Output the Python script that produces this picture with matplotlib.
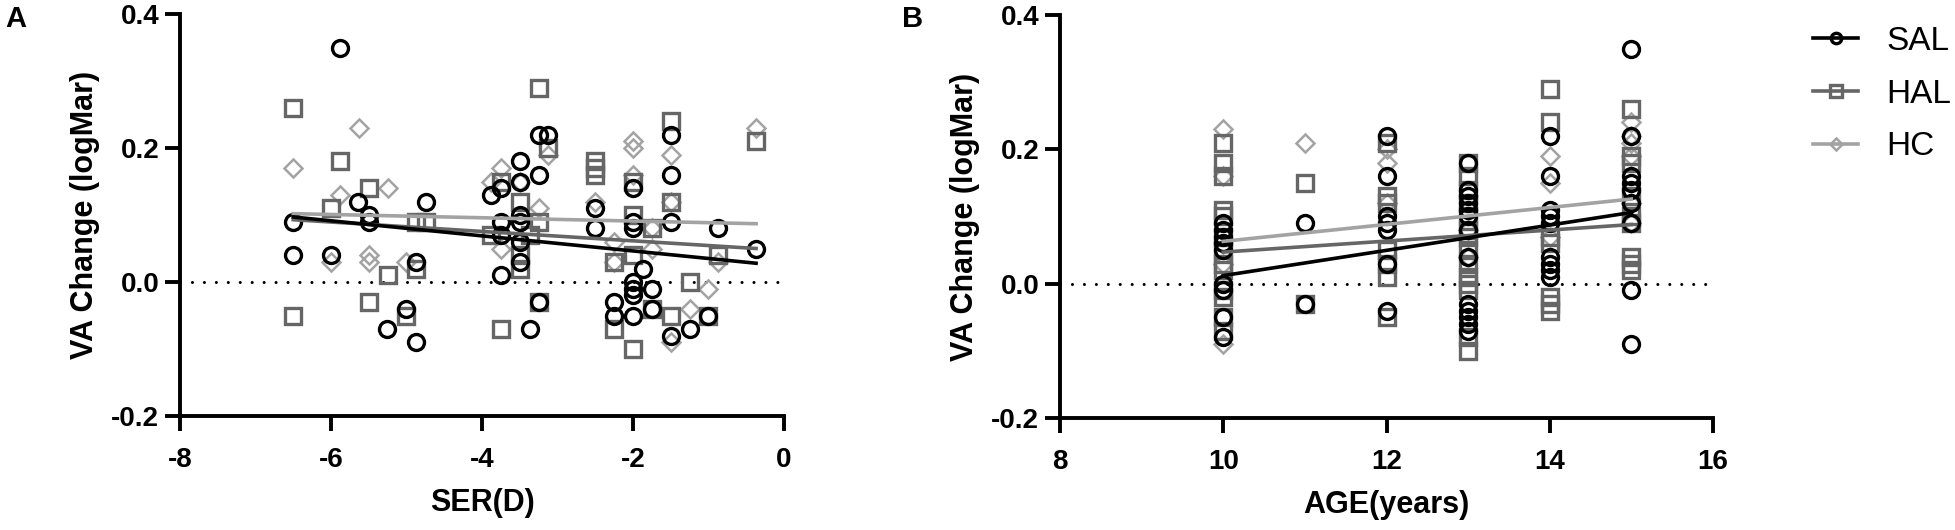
"""VA change vs SER and age for SAL / HAL / HC groups (two-panel scatter with fits)."""

import matplotlib

matplotlib.use("Agg")
import matplotlib.pyplot as plt
from matplotlib.lines import Line2D

plt.rcParams["font.family"] = ["Liberation Sans", "DejaVu Sans"]
plt.rcParams["axes.unicode_minus"] = False

# ---- panel A: VA change vs SER(D) ----
ser_sal = [-5.88, -5.64, -4.74, -5.5, -5.5, -6.5, -6.5, -6.0, -4.87, -5.0, -5.26, -4.87,
           -3.25, -3.13, -3.5, -3.25, -3.5, -3.75, -3.88, -3.5, -3.5, -3.75, -3.75, -3.5, -3.5, -3.75, -3.25, -3.37,
           -2.5, -2.5, -2.25, -2.25,
           -2.0, -2.0, -2.0, -2.0, -2.0, -2.0, -2.0, -1.87, -1.75, -1.75,
           -1.5, -1.5, -1.5, -1.5, -1.25, -1.0, -0.87, -0.37]
va_sal_a = [0.35, 0.12, 0.12, 0.10, 0.09, 0.09, 0.04, 0.04, 0.03, -0.04, -0.07, -0.09,
            0.22, 0.22, 0.18, 0.16, 0.15, 0.14, 0.13, 0.10, 0.09, 0.09, 0.07, 0.06, 0.03, 0.01, -0.03, -0.07,
            0.11, 0.08, -0.03, -0.05,
            0.14, 0.09, 0.08, 0.0, -0.01, -0.02, -0.05, 0.02, -0.01, -0.04,
            0.22, 0.16, 0.09, -0.08, -0.07, -0.05, 0.08, 0.05]

ser_hal = [-6.5, -5.88, -5.5, -6.0, -4.87, -4.74, -4.87, -5.25, -5.5, -6.5, -5.0,
           -3.25, -3.13, -3.75, -3.5, -3.25, -3.88, -3.37, -3.5, -3.5, -3.25, -3.75,
           -2.5, -2.5, -2.5, -2.25, -2.25,
           -2.0, -2.0, -2.0, -2.0, -1.75, -1.75,
           -1.5, -1.5, -1.5, -1.25, -1.0, -0.87, -0.37]
va_hal_a = [0.26, 0.18, 0.14, 0.11, 0.09, 0.09, 0.02, 0.01, -0.03, -0.05, -0.05,
            0.29, 0.20, 0.15, 0.12, 0.09, 0.07, 0.07, 0.04, 0.02, -0.03, -0.07,
            0.18, 0.17, 0.16, 0.03, -0.07,
            0.15, 0.10, 0.04, -0.10, 0.08, -0.04,
            0.24, 0.12, -0.05, 0.0, -0.05, 0.04, 0.21]

ser_hc = [-5.63, -6.5, -5.25, -5.88, -6.0, -5.5, -5.5, -5.0,
          -3.13, -3.75, -3.88, -3.5, -3.25, -3.75,
          -2.5, -2.25, -2.25, -2.0, -2.0, -2.0, -1.75, -1.75,
          -1.5, -1.5, -1.5, -1.25, -1.0, -0.87, -0.37]
va_hc_a = [0.23, 0.17, 0.14, 0.13, 0.03, 0.04, 0.03, 0.03,
           0.19, 0.17, 0.15, 0.15, 0.11, 0.05,
           0.12, 0.06, 0.03, 0.21, 0.20, 0.16, 0.08, 0.05,
           0.19, 0.12, -0.09, -0.04, -0.01, 0.03, 0.23]

# linear fits as drawn in the figure (end points)
fit_ser = [-6.5, -0.37]
fit_sal_a = [0.097, 0.028]
fit_hal_a = [0.093, 0.050]
fit_hc_a = [0.102, 0.087]

# ---- panel B: VA change vs age ----
age_sal = [10, 10, 10, 10, 10, 10, 10, 10, 10,
           11, 11,
           12, 12, 12, 12, 12, 12, 12,
           13, 13, 13, 13, 13, 13, 13, 13, 13, 13, 13, 13, 13,
           14, 14, 14, 14, 14, 14, 14, 14, 14,
           15, 15, 15, 15, 15, 15, 15, 15, 15]
va_sal_b = [0.09, 0.08, 0.07, 0.06, 0.05, 0.0, -0.01, -0.05, -0.08,
            0.09, -0.03,
            0.22, 0.16, 0.10, 0.09, 0.08, 0.03, -0.04,
            0.18, 0.14, 0.13, 0.12, 0.11, 0.10, 0.08, 0.04, -0.03, -0.04, -0.05, -0.06, -0.07,
            0.22, 0.16, 0.11, 0.10, 0.09, 0.04, 0.03, 0.02, 0.01,
            0.35, 0.22, 0.16, 0.15, 0.14, 0.12, 0.09, -0.01, -0.09]

age_hal = [10, 10, 10, 10, 10, 10, 10, 10, 10, 10, 10, 10, 10,
           11, 11,
           12, 12, 12, 12, 12, 12, 12,
           13, 13, 13, 13, 13, 13, 13, 13, 13, 13, 13, 13, 13, 13,
           14, 14, 14, 14, 14, 14, 14,
           15, 15, 15, 15, 15, 15, 15, 15, 15]
va_hal_b = [0.21, 0.18, 0.16, 0.11, 0.10, 0.07, 0.05, 0.03, 0.02, -0.01, -0.02, -0.05, -0.07,
            0.15, -0.03,
            0.21, 0.13, 0.12, 0.05, 0.03, 0.01, -0.05,
            0.18, 0.16, 0.14, 0.12, 0.10, 0.08, 0.07, 0.05, 0.03, 0.01, 0.0, -0.01, -0.08, -0.10,
            0.29, 0.24, 0.07, 0.06, -0.02, -0.03, -0.04,
            0.26, 0.19, 0.18, 0.13, 0.10, 0.09, 0.04, 0.03, 0.02]

age_hc = [10, 10, 10, 10,
          11,
          12, 12, 12,
          13, 13,
          14, 14, 14,
          15, 15, 15, 15, 15, 15]
va_hc_b = [0.23, 0.16, 0.03, -0.09,
           0.21,
           0.20, 0.18, 0.12,
           0.08, 0.04,
           0.19, 0.15, 0.07,
           0.24, 0.22, 0.21, 0.19, 0.12, 0.09]

fit_age = [10, 15]
fit_sal_b = [0.012, 0.106]
fit_hal_b = [0.047, 0.088]
fit_hc_b = [0.063, 0.126]

groups = ["SAL", "HAL", "HC"]
colors = {"SAL": "#000000", "HAL": "#666666", "HC": "#a3a3a3"}
markers = {"SAL": ("o", 11.5, 2.4), "HAL": ("s", 11.5, 2.4), "HC": ("D", 9, 1.8)}
legend_ms = {"SAL": 7.5, "HAL": 8.5, "HC": 6.5}
y_ticks = [-0.2, 0.0, 0.2, 0.4]


def draw_panel(ax, xs, ys, fx, fys, xlim, xticks, xlabel):
    # HC underneath, SAL on top
    for name in reversed(groups):
        m, ms, mew = markers[name]
        ax.plot(xs[name], ys[name], ls="none", marker=m, ms=ms, mew=mew,
                mfc="none", mec=colors[name], zorder=3)
    for name in reversed(groups):
        ax.plot(fx, fys[name], color=colors[name], lw=2.6, zorder=4)
    ax.axhline(0, color="black", lw=2.2, ls=(0, (0.01, 3.9)), dash_capstyle="round", zorder=2)
    ax.set_xlim(*xlim)
    ax.set_ylim(y_ticks[0], y_ticks[-1])
    ax.set_xticks(xticks)
    ax.set_xticklabels([str(t) for t in xticks], fontsize=20, fontweight="bold")
    ax.set_yticks(y_ticks)
    ax.set_yticklabels([f"{t:.1f}" for t in y_ticks], fontsize=20, fontweight="bold")
    for side in ("top", "right"):
        ax.spines[side].set_visible(False)
    for side in ("left", "bottom"):
        ax.spines[side].set_linewidth(2.8)
    ax.tick_params(direction="out", length=11, width=2.8)
    ax.tick_params(axis="x", pad=11)
    ax.tick_params(axis="y", pad=4)
    ax.set_xlabel(xlabel, fontsize=22, fontweight="bold", labelpad=11)
    ax.set_ylabel("VA Change (logMar)", fontsize=22, fontweight="bold", labelpad=8)


fig = plt.figure(figsize=(19.55, 5.3), dpi=100)
ax_a = fig.add_axes([180 / 1955, 114 / 530, 604 / 1955, 402 / 530])
ax_b = fig.add_axes([1060 / 1955, 112 / 530, 653 / 1955, 403 / 530])

draw_panel(ax_a,
           {"SAL": ser_sal, "HAL": ser_hal, "HC": ser_hc},
           {"SAL": va_sal_a, "HAL": va_hal_a, "HC": va_hc_a},
           fit_ser, {"SAL": fit_sal_a, "HAL": fit_hal_a, "HC": fit_hc_a},
           (-8, 0), [-8, -6, -4, -2, 0], "SER(D)")
draw_panel(ax_b,
           {"SAL": age_sal, "HAL": age_hal, "HC": age_hc},
           {"SAL": va_sal_b, "HAL": va_hal_b, "HC": va_hc_b},
           fit_age, {"SAL": fit_sal_b, "HAL": fit_hal_b, "HC": fit_hc_b},
           (8, 16), [8, 10, 12, 14, 16], "AGE(years)")

fig.text(5 / 1955, 1 - 5 / 530, "A", fontsize=21, fontweight="bold", va="top", ha="left")
fig.text(902 / 1955, 1 - 5 / 530, "B", fontsize=21, fontweight="bold", va="top", ha="left")

handles = []
for name in groups:
    m, ms, mew = markers[name]
    handles.append(Line2D([], [], color=colors[name], lw=2.6, marker=m, ms=legend_ms[name],
                          mew=mew, mfc="none", mec=colors[name]))
fig.legend(handles, groups, loc="upper left", bbox_to_anchor=(1813 / 1955, 1 - 26 / 530),
           frameon=False, fontsize=24, handlelength=1.35, handletextpad=0.84,
           labelspacing=0.65, borderpad=0, borderaxespad=0)

fig.savefig("out.png", dpi=100)
